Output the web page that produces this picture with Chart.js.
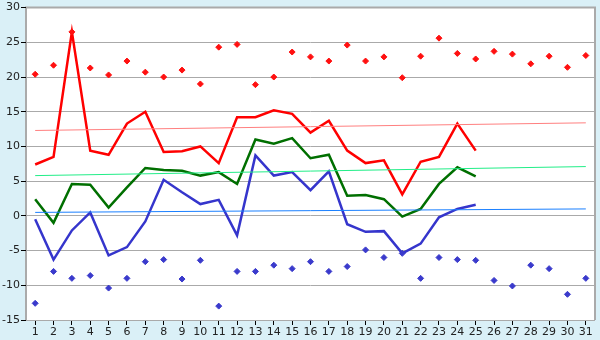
<!DOCTYPE html>
<html>
<head>
<meta charset="utf-8">
<script src="https://cdn.jsdelivr.net/npm/chart.js@4/dist/chart.umd.min.js"></script>
<style>
  html, body { margin: 0; padding: 0; background: #daf0f7; }
  #wrap { width: 600px; height: 340px; }
</style>
</head>
<body>
<div id="wrap"><canvas id="chart" width="600" height="340"></canvas></div>
<script>
// days of the month
const days = Array.from({ length: 31 }, (_, i) => String(i + 1));

// daily max / mean / min (days 1-25)
const maxTemp = [7.4, 8.5, 26.5, 9.4, 8.8, 13.3, 15.0, 9.2, 9.3, 10.0, 7.6, 14.2, 14.2, 15.2, 14.7, 12.0, 13.7, 9.4, 7.6, 8.0, 3.1, 7.8, 8.5, 13.3, 9.4];
const meanTemp = [2.4, -1.0, 4.6, 4.5, 1.2, 4.1, 6.9, 6.6, 6.5, 5.8, 6.3, 4.6, 11.0, 10.4, 11.2, 8.3, 8.8, 2.9, 3.0, 2.4, -0.1, 1.0, 4.6, 7.0, 5.7];
const minTemp = [-0.5, -6.3, -2.1, 0.5, -5.7, -4.5, -0.8, 5.2, 3.4, 1.7, 2.3, -2.8, 8.7, 5.8, 6.3, 3.7, 6.4, -1.2, -2.3, -2.2, -5.4, -4.0, -0.2, 1.0, 1.6];

// record highs / lows for each day
const recordHigh = [20.4, 21.7, 26.5, 21.3, 20.3, 22.3, 20.7, 20.0, 21.0, 19.0, 24.3, 24.7, 18.9, 20.0, 23.6, 22.9, 22.3, 24.6, 22.3, 22.9, 19.9, 23.0, 25.6, 23.4, 22.6, 23.7, 23.3, 21.9, 23.0, 21.4, 23.1];
const recordLow = [-12.6, -8.0, -9.0, -8.6, -10.4, -9.0, -6.6, -6.3, -9.1, -6.4, -13.0, -8.0, -8.0, -7.1, -7.6, -6.6, -8.0, -7.3, -4.9, -6.0, -5.4, -9.0, -6.0, -6.3, -6.4, -9.3, -10.1, -7.1, -7.6, -11.3, -9.0];

// long-term normals: value at day 1 and day 31
const normalMax = [12.3, 13.4];
const normalMean = [5.8, 7.1];
const normalMin = [0.5, 1.0];

const yTicks = [-15, -10, -5, 0, 5, 10, 15, 20, 25, 30];

function endsOnly(pair) {
  const arr = new Array(days.length).fill(null);
  arr[0] = pair[0];
  arr[days.length - 1] = pair[1];
  return arr;
}

const bgPlugin = {
  id: 'bg',
  beforeDraw(chart) {
    const { ctx, chartArea: a } = chart;
    ctx.save();
    ctx.fillStyle = '#daf0f7';
    ctx.fillRect(0, 0, chart.width, chart.height);
    ctx.fillStyle = '#ffffff';
    ctx.fillRect(a.left, a.top, a.right - a.left, a.bottom - a.top);
    ctx.strokeStyle = '#aaaaaa';
    ctx.lineWidth = 2;
    ctx.beginPath();
    ctx.moveTo(a.left, a.bottom);
    ctx.lineTo(a.left, a.top);
    ctx.lineTo(a.right, a.top);
    ctx.lineTo(a.right, a.bottom);
    ctx.stroke();
    ctx.restore();
  }
};

const lineDs = (data, color, width) => ({
  data, borderColor: color, backgroundColor: color, borderWidth: width,
  pointRadius: 0, tension: 0, fill: false
});
const trendDs = (pair, color) => ({
  data: endsOnly(pair), borderColor: color, borderWidth: 1,
  pointRadius: 0, spanGaps: true, fill: false
});
const dotDs = (data, color) => ({
  data, showLine: false, borderColor: color, backgroundColor: color,
  pointStyle: 'rectRot', pointRadius: 3, pointBorderWidth: 1
});

new Chart(document.getElementById('chart'), {
  type: 'line',
  data: {
    labels: days,
    datasets: [
      trendDs(normalMax, '#ff8080'),
      trendDs(normalMean, '#22ee88'),
      trendDs(normalMin, '#1a80ff'),
      dotDs(recordHigh, '#ff1010'),
      dotDs(recordLow, '#3a3acc'),
      lineDs(maxTemp, '#ff0000', 2.5),
      lineDs(meanTemp, '#006f00', 2.5),
      lineDs(minTemp, '#3535cc', 2.5)
    ]
  },
  options: {
    responsive: false,
    animation: false,
    layout: { padding: { top: 5, right: 5, left: 0, bottom: 0 } },
    plugins: { legend: { display: false }, tooltip: { enabled: false } },
    scales: {
      x: {
        offset: true,
        grid: { drawOnChartArea: false, drawTicks: true, tickLength: 5, tickColor: '#000', offset: false },
        border: { display: false },
        ticks: { color: '#222', font: { family: 'DejaVu Sans', size: 11 }, padding: 1, maxRotation: 0, autoSkip: false },
        afterFit(s) { s.height = 20; }
      },
      y: {
        min: -15, max: 30,
        afterBuildTicks(s) { s.ticks = yTicks.map(v => ({ value: v })); },
        grid: { color: '#aaaaaa', lineWidth: 1, tickLength: 5, tickColor: '#000' },
        border: { display: false },
        ticks: { color: '#222', font: { family: 'DejaVu Sans', size: 11 }, padding: 1 },
        afterFit(s) { s.width = 26; }
      }
    }
  },
  plugins: [bgPlugin]
});
</script>
</body>
</html>
